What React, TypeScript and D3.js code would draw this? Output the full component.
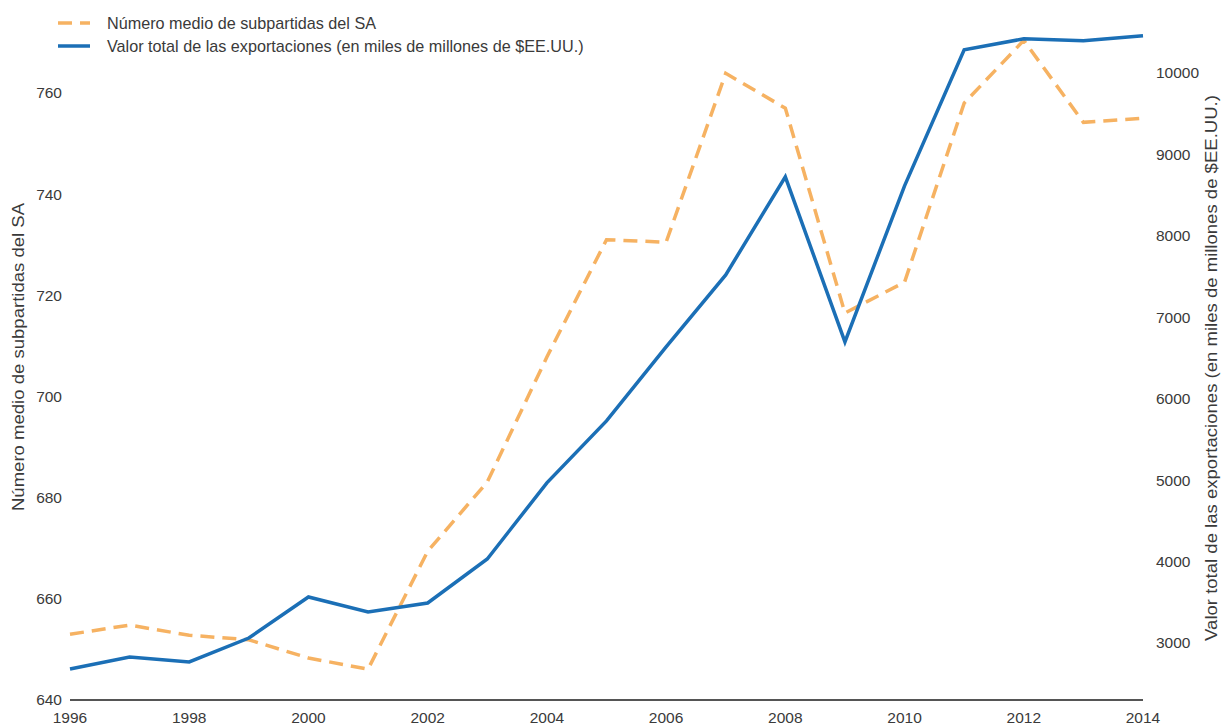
import React from "react";
import * as d3 from "d3";

const years = [1996, 1997, 1998, 1999, 2000, 2001, 2002, 2003, 2004, 2005, 2006, 2007, 2008, 2009, 2010, 2011, 2012, 2013, 2014];
const subheadings = [653.0, 654.8, 652.8, 651.9, 648.3, 646.1, 669.4, 683.1, 707.8, 731.0, 730.5, 763.9, 757.0, 716.5, 722.6, 758.0, 770.4, 754.2, 755.0];
const exportValue = [2681, 2828, 2767, 3061, 3565, 3381, 3491, 4032, 4966, 5727, 6636, 7521, 8725, 6698, 8614, 10285, 10420, 10395, 10457];
const leftTicks = [640, 660, 680, 700, 720, 740, 760];
const rightTicks = [3000, 4000, 5000, 6000, 7000, 8000, 9000, 10000];
const xTicks = [1996, 1998, 2000, 2002, 2004, 2006, 2008, 2010, 2012, 2014];
const legendLabels = ["Número medio de subpartidas del SA", "Valor total de las exportaciones (en miles de millones de $EE.UU.)"];
const leftTitle = "Número medio de subpartidas del SA";
const rightTitle = "Valor total de las exportaciones (en miles de millones de $EE.UU.)";

const ORANGE = "#f6b262";
const BLUE = "#1b6fb6";
const TEXT = "#3a3a3a";
const FONT = "'Liberation Sans', Arial, sans-serif";

export default function App() {
  const W = 1222, H = 728;
  const x = d3.scaleLinear().domain([1996, 2014]).range([70, 1143]);
  const yL = d3.scaleLinear().domain([640, 760]).range([700, 93]);
  const yR = d3.scaleLinear().domain([3000, 10000]).range([643, 73]);

  const lineL = d3.line<number>().x((_, i) => x(years[i])).y((d) => yL(d));
  const lineR = d3.line<number>().x((_, i) => x(years[i])).y((d) => yR(d));

  return (
    <svg width={W} height={H} style={{ position: "absolute", left: 0, top: 0, background: "#fff" }} fontFamily={FONT}>
      {/* legend */}
      <line x1={58} x2={90} y1={23} y2={23} stroke={ORANGE} strokeWidth={3.5} strokeDasharray="14 8" />
      <text x={107} y={23} dy="0.35em" fontSize={16.2} fill={TEXT}>{legendLabels[0]}</text>
      <line x1={58} x2={90} y1={46} y2={46} stroke={BLUE} strokeWidth={3.5} />
      <text x={107} y={46} dy="0.35em" fontSize={16.2} fill={TEXT}>{legendLabels[1]}</text>

      {/* left ticks */}
      {leftTicks.map((t) => (
        <text key={t} x={62} y={yL(t)} dy="0.35em" textAnchor="end" fontSize={15.5} fill={TEXT}>{t}</text>
      ))}
      {/* right ticks */}
      {rightTicks.map((t) => (
        <text key={t} x={1156} y={yR(t)} dy="0.35em" textAnchor="start" fontSize={15.5} fill={TEXT}>{t}</text>
      ))}
      {/* x ticks */}
      {xTicks.map((t) => (
        <text key={t} x={x(t)} y={718} dy="0.35em" textAnchor="middle" fontSize={15.5} fill={TEXT}>{t}</text>
      ))}
      {/* axis titles */}
      <text transform={`translate(18,357) rotate(-90) scale(1.145,1)`} textAnchor="middle" dy="0.35em" fontSize={16.2} fill={TEXT}>{leftTitle}</text>
      <text transform={`translate(1211,368) rotate(-90) scale(1.145,1)`} textAnchor="middle" dy="0.35em" fontSize={16.2} fill={TEXT}>{rightTitle}</text>

      {/* baseline */}
      <line x1={70} x2={1143} y1={700} y2={700} stroke="#555" strokeWidth={2} />

      {/* series */}
      <path d={lineL(subheadings) || ""} fill="none" stroke={ORANGE} strokeWidth={3.5} strokeDasharray="14 8" />
      <path d={lineR(exportValue) || ""} fill="none" stroke={BLUE} strokeWidth={3.5} />
    </svg>
  );
}
